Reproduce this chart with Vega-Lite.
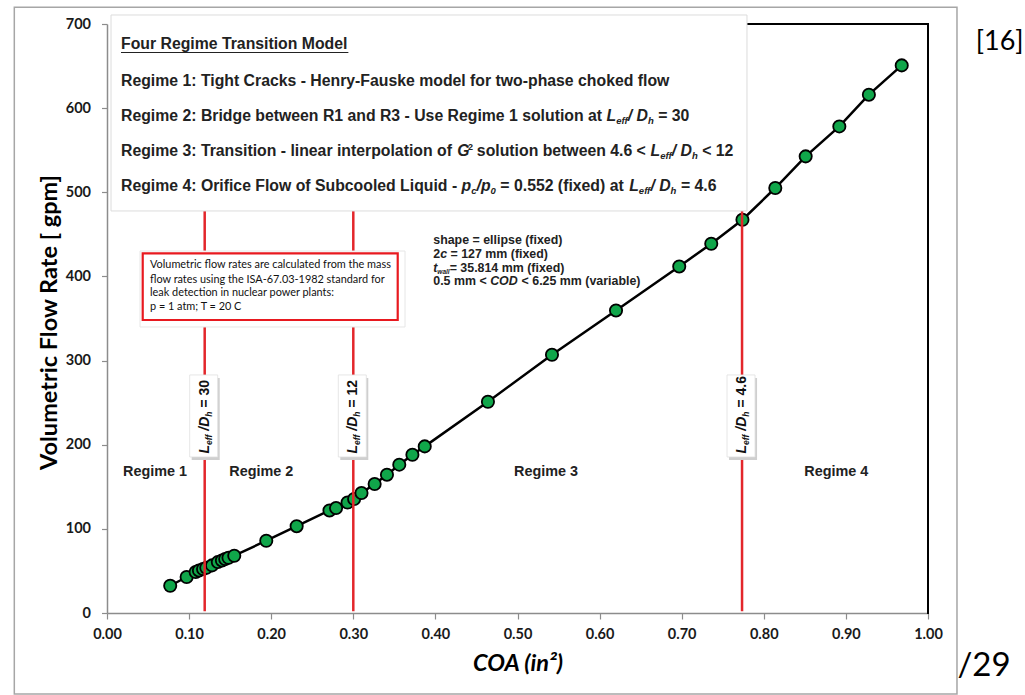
{
  "$schema": "https://vega.github.io/schema/vega-lite/v6.json",
  "width": 821,
  "height": 589,
  "autosize": {"type": "none"},
  "padding": {"left": 107, "top": 24, "right": 97, "bottom": 82},
  "background": "white",
  "config": {"view": {"stroke": null}, "font": "Liberation Sans"},
  "datasets": {
    "pts": [
      {"x": 0.077, "y": 32.4}, {"x": 0.097, "y": 42.8}, {"x": 0.108, "y": 48.7}, {"x": 0.112, "y": 50.6},
      {"x": 0.117, "y": 52.3}, {"x": 0.121, "y": 53.8}, {"x": 0.128, "y": 56.6}, {"x": 0.135, "y": 60.5},
      {"x": 0.140, "y": 62.5}, {"x": 0.144, "y": 64.2}, {"x": 0.148, "y": 65.7}, {"x": 0.155, "y": 68.1},
      {"x": 0.194, "y": 85.9}, {"x": 0.231, "y": 103.2}, {"x": 0.271, "y": 121.9}, {"x": 0.279, "y": 124.7},
      {"x": 0.293, "y": 131.4}, {"x": 0.301, "y": 135.5}, {"x": 0.310, "y": 142.6}, {"x": 0.326, "y": 153.3},
      {"x": 0.341, "y": 164.4}, {"x": 0.356, "y": 176.3}, {"x": 0.372, "y": 188.1}, {"x": 0.387, "y": 198.0},
      {"x": 0.464, "y": 251.1}, {"x": 0.542, "y": 307.0}, {"x": 0.620, "y": 359.6}, {"x": 0.697, "y": 411.9},
      {"x": 0.736, "y": 438.9}, {"x": 0.774, "y": 467.4}, {"x": 0.814, "y": 505.1}, {"x": 0.851, "y": 542.7},
      {"x": 0.892, "y": 578.3}, {"x": 0.928, "y": 616.0}, {"x": 0.968, "y": 650.8}
    ],
    "vlines": [{"x": 0.119}, {"x": 0.30}, {"x": 0.7735}],
    "top_main": [
      {"x": 0.01705, "y": 670.0, "t": "Four Regime Transition Model"},
      {"x": 0.01705, "y": 626.7, "t": "Regime 1: Tight Cracks - Henry-Fauske model for two-phase choked flow"},
      {"x": 0.01705, "y": 585.1, "t": "Regime 2: Bridge between R1 and R3 - Use Regime 1 solution at"},
      {"x": 0.6714, "y": 585.1, "t": "= 30"},
      {"x": 0.01705, "y": 543.1, "t": "Regime 3: Transition - linear interpolation of"},
      {"x": 0.4505, "y": 543.1, "t": "solution between 4.6 <"},
      {"x": 0.7250, "y": 543.1, "t": "< 12"},
      {"x": 0.01705, "y": 501.5, "t": "Regime 4: Orifice Flow of Subcooled Liquid -"},
      {"x": 0.4791, "y": 501.5, "t": "= 0.552 (fixed) at"},
      {"x": 0.6990, "y": 501.5, "t": "= 4.6"}
    ],
    "top_ital": [
      {"x": 0.6084, "y": 585.1, "t": "L"}, {"x": 0.6343, "y": 585.1, "t": "/ D"},
      {"x": 0.4267, "y": 543.1, "t": "G"}, {"x": 0.6620, "y": 543.1, "t": "L"}, {"x": 0.6879, "y": 543.1, "t": "/ D"},
      {"x": 0.4319, "y": 501.5, "t": "p"}, {"x": 0.4502, "y": 501.5, "t": "/p"}, {"x": 0.6360, "y": 501.5, "t": "L"}, {"x": 0.6619, "y": 501.5, "t": "/ D"}
    ],
    "top_sub": [
      {"x": 0.6202, "y": 580.9, "t": "eff"}, {"x": 0.6590, "y": 580.9, "t": "h"},
      {"x": 0.6738, "y": 539.0, "t": "eff"}, {"x": 0.7125, "y": 539.0, "t": "h"},
      {"x": 0.4437, "y": 497.4, "t": "c"}, {"x": 0.4672, "y": 497.4, "t": "0"}, {"x": 0.6478, "y": 497.4, "t": "eff"}, {"x": 0.6865, "y": 497.4, "t": "h"}
    ],
    "top_sup": [{"x": 0.4397, "y": 550.3, "t": "2"}],
    "shape_main": [
      {"x": 0.3974, "y": 438.5, "t": "shape = ellipse (fixed)"},
      {"x": 0.3974, "y": 422.3, "t": "2"},
      {"x": 0.4184, "y": 422.3, "t": "= 127 mm (fixed)"},
      {"x": 0.4174, "y": 405.6, "t": "= 35.814 mm (fixed)"},
      {"x": 0.3974, "y": 389.8, "t": "0.5 mm <"},
      {"x": 0.5050, "y": 389.8, "t": "< 6.25 mm (variable)"}
    ],
    "shape_ital": [
      {"x": 0.4058, "y": 422.3, "t": "c"},
      {"x": 0.3974, "y": 405.6, "t": "t"},
      {"x": 0.4667, "y": 389.8, "t": "COD"}
    ],
    "shape_sub": [{"x": 0.4024, "y": 402.6, "t": "wall"}],
    "note": [
      {"x": 0.0524, "y": 409.7, "t": "Volumetric flow rates are calculated from the mass"},
      {"x": 0.0524, "y": 392.6, "t": "flow rates using the ISA-67.03-1982 standard for"},
      {"x": 0.0524, "y": 376.7, "t": "leak detection in nuclear power plants:"},
      {"x": 0.0524, "y": 360.1, "t": "p = 1 atm; T = 20 C"}
    ],
    "vl_ital": [
      {"x": 0.119, "y": 189.6, "t": "L"}, {"x": 0.119, "y": 216.7, "t": "/D"},
      {"x": 0.30, "y": 189.6, "t": "L"}, {"x": 0.30, "y": 216.7, "t": "/D"},
      {"x": 0.7735, "y": 189.6, "t": "L"}, {"x": 0.7735, "y": 216.7, "t": "/D"}
    ],
    "vl_sub": [
      {"x": 0.119, "y": 199.7, "t": "eff"}, {"x": 0.119, "y": 233.3, "t": "h"},
      {"x": 0.30, "y": 199.7, "t": "eff"}, {"x": 0.30, "y": 233.3, "t": "h"},
      {"x": 0.7735, "y": 199.7, "t": "eff"}, {"x": 0.7735, "y": 233.3, "t": "h"}
    ],
    "vl_main": [
      {"x": 0.119, "y": 244.1, "t": "= 30"},
      {"x": 0.30, "y": 244.1, "t": "= 12"},
      {"x": 0.7735, "y": 244.1, "t": "= 4.6"}
    ],
    "regimes": [
      {"x": 0.0585, "y": 167.9, "t": "Regime 1"},
      {"x": 0.1879, "y": 167.9, "t": "Regime 2"},
      {"x": 0.5347, "y": 167.9, "t": "Regime 3"},
      {"x": 0.8883, "y": 167.9, "t": "Regime 4"}
    ],
    "slide_small": [{"x": 1.0873, "y": 669.1, "t": "[16]"}],
    "slide_big": [{"x": 1.0682, "y": -74.9, "t": "/29"}]
  },
  "layer": [
    {
      "data": {"name": "pts"},
      "mark": {"type": "line", "color": "#000", "strokeWidth": 2.5},
      "encoding": {
        "x": {
          "field": "x", "type": "quantitative",
          "scale": {"domain": [0, 1], "nice": false, "zero": false},
          "axis": {
            "title": "COA (in²)",
            "values": [0, 0.1, 0.2, 0.3, 0.4, 0.5, 0.6, 0.7, 0.8, 0.9, 1.0],
            "format": ".2f", "grid": false, "labelFlush": false, "labelOverlap": false,
            "tickSize": 6, "tickColor": "#8c8c8c", "tickWidth": 1.2,
            "domainColor": "#8c8c8c", "domainWidth": 1.5,
            "labelFont": "Lato", "labelFontSize": 14.5, "labelFontWeight": "bold", "labelColor": "#1a1a1a", "labelPadding": 8,
            "titleFont": "Lato", "titleFontSize": 23.5, "titleFontStyle": "italic", "titleFontWeight": "bold", "titleColor": "#000",
            "titleY": 57, "titleBaseline": "alphabetic"
          }
        },
        "y": {
          "field": "y", "type": "quantitative",
          "scale": {"domain": [0, 700], "nice": false, "zero": false},
          "axis": {
            "title": "Volumetric Flow Rate [ gpm]",
            "values": [0, 100, 200, 300, 400, 500, 600, 700],
            "grid": false, "labelOverlap": false,
            "tickSize": 5.5, "tickColor": "#8c8c8c", "tickWidth": 1.2,
            "domainColor": "#8c8c8c", "domainWidth": 1.5,
            "labelFont": "Lato", "labelFontSize": 14.5, "labelFontWeight": "bold", "labelColor": "#1a1a1a", "labelPadding": 11,
            "titleFont": "Lato", "titleFontSize": 23.5, "titleFontWeight": "bold", "titleColor": "#000",
            "titleAngle": 270, "titleX": -51, "titleY": 298, "titleBaseline": "alphabetic", "titleAlign": "center"
          }
        }
      }
    },
    {
      "data": {"values": [{}]},
      "mark": {"type": "rect", "filled": false, "stroke": "#a6a6a6", "strokeWidth": 1.5},
      "encoding": {
        "x": {"datum": -0.1129, "type": "quantitative"},
        "x2": {"datum": 1.0353},
        "y": {"datum": 719.8, "type": "quantitative"},
        "y2": {"datum": -96.3}
      }
    },
    {
      "data": {"values": [{}]},
      "mark": {"type": "rule", "color": "#000", "strokeWidth": 2, "strokeCap": "square"},
      "encoding": {
        "x": {"datum": 0.7, "type": "quantitative"},
        "x2": {"datum": 1},
        "y": {"datum": 700, "type": "quantitative"}
      }
    },
    {
      "data": {"values": [{}]},
      "mark": {"type": "rule", "color": "#000", "strokeWidth": 2, "strokeCap": "square"},
      "encoding": {
        "x": {"datum": 1, "type": "quantitative"},
        "y": {"datum": 0, "type": "quantitative"},
        "y2": {"datum": 700}
      }
    },
    {
      "data": {"name": "pts"},
      "mark": {"type": "circle", "size": 150, "fill": "#10A64A", "stroke": "#000", "strokeWidth": 1.8, "opacity": 1},
      "encoding": {
        "x": {"field": "x", "type": "quantitative"},
        "y": {"field": "y", "type": "quantitative"}
      }
    },
    {
      "data": {"name": "vlines"},
      "mark": {"type": "rule", "color": "#E3262B", "strokeWidth": 2.5},
      "encoding": {
        "x": {"field": "x", "type": "quantitative"},
        "y": {"datum": 2, "type": "quantitative"},
        "y2": {"datum": 700}
      }
    },
    {
      "data": {"values": [{}]},
      "mark": {"type": "rect", "fill": "#ffffff", "stroke": "#dcdcdc", "strokeWidth": 1},
      "encoding": {
        "x": {"datum": 0.0049, "type": "quantitative"},
        "x2": {"datum": 0.7795},
        "y": {"datum": 710.7, "type": "quantitative"},
        "y2": {"datum": 477.8}
      }
    },
    {
      "data": {"values": [{}]},
      "mark": {"type": "rule", "color": "#222", "strokeWidth": 1.2},
      "encoding": {
        "x": {"datum": 0.01705, "type": "quantitative"},
        "x2": {"datum": 0.2940},
        "y": {"datum": 666.1, "type": "quantitative"}
      }
    },
    {
      "data": {"name": "top_main"},
      "mark": {"type": "text", "align": "left", "baseline": "alphabetic", "font": "Liberation Sans", "fontSize": 15.8, "fontWeight": "bold", "color": "#222"},
      "encoding": {
        "x": {"field": "x", "type": "quantitative"},
        "y": {"field": "y", "type": "quantitative"},
        "text": {"field": "t"}
      }
    },
    {
      "data": {"name": "top_ital"},
      "mark": {"type": "text", "align": "left", "baseline": "alphabetic", "font": "Liberation Sans", "fontSize": 15.8, "fontWeight": "bold", "fontStyle": "italic", "color": "#222"},
      "encoding": {
        "x": {"field": "x", "type": "quantitative"},
        "y": {"field": "y", "type": "quantitative"},
        "text": {"field": "t"}
      }
    },
    {
      "data": {"name": "top_sub"},
      "mark": {"type": "text", "align": "left", "baseline": "alphabetic", "font": "Liberation Sans", "fontSize": 9.5, "fontWeight": "bold", "fontStyle": "italic", "color": "#222"},
      "encoding": {
        "x": {"field": "x", "type": "quantitative"},
        "y": {"field": "y", "type": "quantitative"},
        "text": {"field": "t"}
      }
    },
    {
      "data": {"name": "top_sup"},
      "mark": {"type": "text", "align": "left", "baseline": "alphabetic", "font": "Liberation Sans", "fontSize": 9, "fontWeight": "bold", "color": "#222"},
      "encoding": {
        "x": {"field": "x", "type": "quantitative"},
        "y": {"field": "y", "type": "quantitative"},
        "text": {"field": "t"}
      }
    },
    {
      "data": {"name": "shape_main"},
      "mark": {"type": "text", "align": "left", "baseline": "alphabetic", "font": "Liberation Sans", "fontSize": 12.4, "fontWeight": "bold", "color": "#222"},
      "encoding": {
        "x": {"field": "x", "type": "quantitative"},
        "y": {"field": "y", "type": "quantitative"},
        "text": {"field": "t"}
      }
    },
    {
      "data": {"name": "shape_ital"},
      "mark": {"type": "text", "align": "left", "baseline": "alphabetic", "font": "Liberation Sans", "fontSize": 12.4, "fontWeight": "bold", "fontStyle": "italic", "color": "#222"},
      "encoding": {
        "x": {"field": "x", "type": "quantitative"},
        "y": {"field": "y", "type": "quantitative"},
        "text": {"field": "t"}
      }
    },
    {
      "data": {"name": "shape_sub"},
      "mark": {"type": "text", "align": "left", "baseline": "alphabetic", "font": "Liberation Sans", "fontSize": 6.5, "fontWeight": "bold", "fontStyle": "italic", "color": "#222"},
      "encoding": {
        "x": {"field": "x", "type": "quantitative"},
        "y": {"field": "y", "type": "quantitative"},
        "text": {"field": "t"}
      }
    },
    {
      "data": {"values": [{}]},
      "mark": {"type": "rect", "fill": "#ffffff", "stroke": "#e6e6e6", "strokeWidth": 1},
      "encoding": {
        "x": {"datum": 0.0402, "type": "quantitative"},
        "x2": {"datum": 0.3630},
        "y": {"datum": 430.2, "type": "quantitative"},
        "y2": {"datum": 339.9}
      }
    },
    {
      "data": {"values": [{}]},
      "mark": {"type": "rect", "fill": "#ffffff", "stroke": "#E8191F", "strokeWidth": 2.2},
      "encoding": {
        "x": {"datum": 0.0435, "type": "quantitative"},
        "x2": {"datum": 0.3541},
        "y": {"datum": 427.5, "type": "quantitative"},
        "y2": {"datum": 348.2}
      }
    },
    {
      "data": {"name": "note"},
      "mark": {"type": "text", "align": "left", "baseline": "alphabetic", "font": "Lato", "fontSize": 10.9, "color": "#111"},
      "encoding": {
        "x": {"field": "x", "type": "quantitative"},
        "y": {"field": "y", "type": "quantitative"},
        "text": {"field": "t"}
      }
    },
    {
      "data": {"name": "vlines"},
      "mark": {"type": "rect", "fill": "#cfcfcf", "xOffset": -13, "x2Offset": 15, "yOffset": 3, "y2Offset": 3},
      "encoding": {
        "x": {"field": "x", "type": "quantitative"},
        "x2": {"field": "x"},
        "y": {"datum": 282.9, "type": "quantitative"},
        "y2": {"datum": 185.4}
      }
    },
    {
      "data": {"name": "vlines"},
      "mark": {"type": "rect", "fill": "#ffffff", "stroke": "#e0e0e0", "strokeWidth": 0.8, "xOffset": -15, "x2Offset": 13},
      "encoding": {
        "x": {"field": "x", "type": "quantitative"},
        "x2": {"field": "x"},
        "y": {"datum": 282.9, "type": "quantitative"},
        "y2": {"datum": 185.4}
      }
    },
    {
      "data": {"name": "vl_ital"},
      "mark": {"type": "text", "angle": 270, "align": "left", "baseline": "alphabetic", "font": "Liberation Sans", "fontSize": 14, "fontWeight": "bold", "fontStyle": "italic", "color": "#111", "xOffset": 4},
      "encoding": {
        "x": {"field": "x", "type": "quantitative"},
        "y": {"field": "y", "type": "quantitative"},
        "text": {"field": "t"}
      }
    },
    {
      "data": {"name": "vl_sub"},
      "mark": {"type": "text", "angle": 270, "align": "left", "baseline": "alphabetic", "font": "Liberation Sans", "fontSize": 8.5, "fontWeight": "bold", "fontStyle": "italic", "color": "#111", "xOffset": 7},
      "encoding": {
        "x": {"field": "x", "type": "quantitative"},
        "y": {"field": "y", "type": "quantitative"},
        "text": {"field": "t"}
      }
    },
    {
      "data": {"name": "vl_main"},
      "mark": {"type": "text", "angle": 270, "align": "left", "baseline": "alphabetic", "font": "Liberation Sans", "fontSize": 14, "fontWeight": "bold", "color": "#111", "xOffset": 4},
      "encoding": {
        "x": {"field": "x", "type": "quantitative"},
        "y": {"field": "y", "type": "quantitative"},
        "text": {"field": "t"}
      }
    },
    {
      "data": {"name": "regimes"},
      "mark": {"type": "text", "align": "center", "baseline": "middle", "font": "Liberation Sans", "fontSize": 14.4, "fontWeight": "bold", "color": "#222"},
      "encoding": {
        "x": {"field": "x", "type": "quantitative"},
        "y": {"field": "y", "type": "quantitative"},
        "text": {"field": "t"}
      }
    },
    {
      "data": {"name": "slide_small"},
      "mark": {"type": "text", "align": "center", "baseline": "alphabetic", "font": "Lato", "fontSize": 27, "color": "#000"},
      "encoding": {
        "x": {"field": "x", "type": "quantitative"},
        "y": {"field": "y", "type": "quantitative"},
        "text": {"field": "t"}
      }
    },
    {
      "data": {"name": "slide_big"},
      "mark": {"type": "text", "align": "center", "baseline": "alphabetic", "font": "Lato", "fontSize": 33, "color": "#000"},
      "encoding": {
        "x": {"field": "x", "type": "quantitative"},
        "y": {"field": "y", "type": "quantitative"},
        "text": {"field": "t"}
      }
    }
  ]
}
